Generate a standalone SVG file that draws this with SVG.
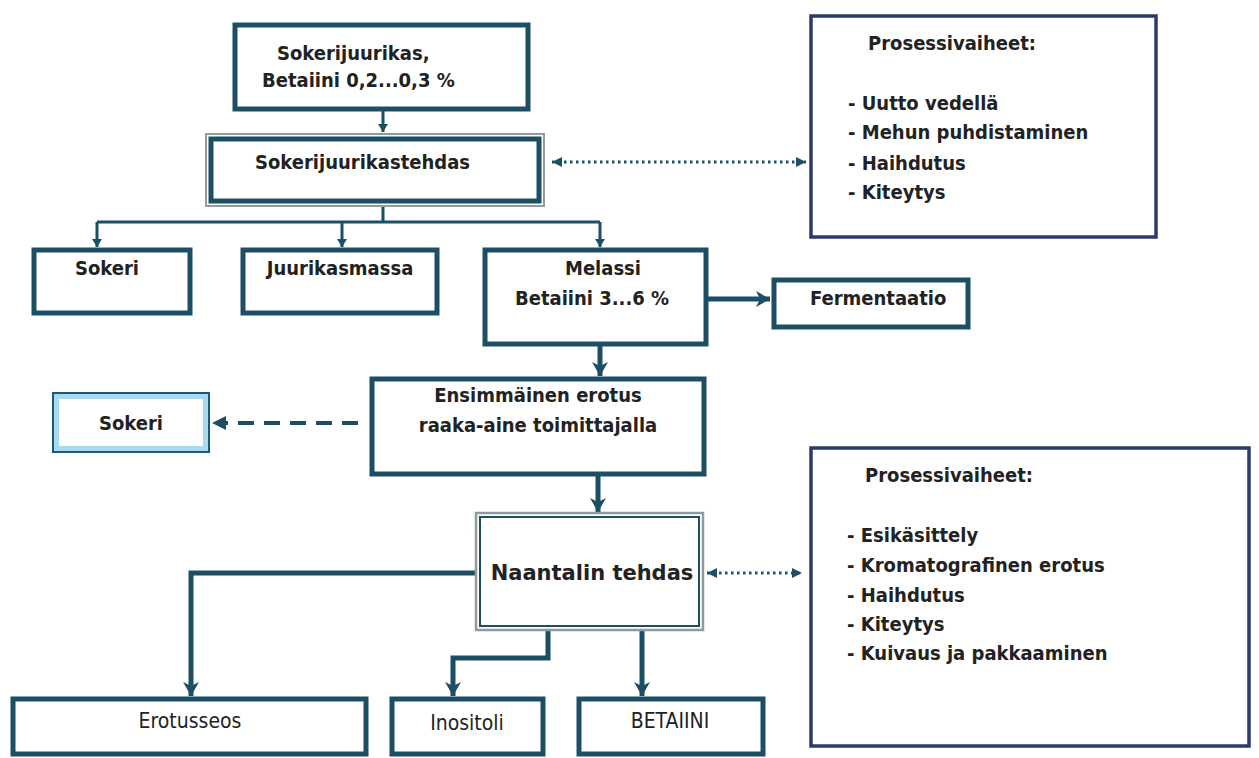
<svg xmlns="http://www.w3.org/2000/svg" width="1259" height="758" viewBox="0 0 1259 758">
<defs>
<style>
.bx{fill:#fff;stroke:#1c4f64;stroke-width:5}
.pb{fill:#fff;stroke:#2a3b6b;stroke-width:3.5}
.t{font-family:"DejaVu Sans Condensed","DejaVu Sans",sans-serif;font-weight:bold;font-size:20px;fill:#222}
.tn{font-family:"Liberation Sans Narrow","DejaVu Sans Condensed",sans-serif;font-size:21px;fill:#222}
.c{text-anchor:middle}
.thin{fill:none;stroke:#1c4f64;stroke-width:3}
.thick{fill:none;stroke:#1c4f64;stroke-width:5}
.dot{fill:none;stroke:#1c4f64;stroke-width:3;stroke-dasharray:2.5 3.5}
.dash{fill:none;stroke:#1c4f64;stroke-width:4;stroke-dasharray:16 10}
</style>
<marker id="as" markerUnits="userSpaceOnUse" markerWidth="10" markerHeight="10" refX="8" refY="5" orient="auto"><path d="M0,0 L8,5 L0,10 z" fill="#1c4f64"/></marker>
<marker id="ab" markerUnits="userSpaceOnUse" markerWidth="16" markerHeight="16" refX="14" refY="8" orient="auto"><path d="M0,0 L14,8 L0,16 L4,8 z" fill="#1c4f64"/></marker>
<marker id="ad" markerUnits="userSpaceOnUse" markerWidth="12" markerHeight="12" refX="10" refY="6" orient="auto-start-reverse"><path d="M0,1 L10,6 L0,11 z" fill="#1c4f64"/></marker>
</defs>
<rect width="1259" height="758" fill="#fff"/>

<g id="connectors">
<line class="thin" x1="383" y1="110" x2="383" y2="132" marker-end="url(#as)"/>
<polyline class="thin" points="383,207 383,222"/>
<line class="thin" x1="97" y1="222" x2="600" y2="222"/>
<line class="thin" x1="97" y1="222" x2="97" y2="247" marker-end="url(#as)"/>
<line class="thin" x1="342" y1="222" x2="342" y2="247" marker-end="url(#as)"/>
<line class="thin" x1="600" y1="222" x2="600" y2="247" marker-end="url(#as)"/>
<line class="dot" x1="552" y1="162" x2="806" y2="162" marker-start="url(#ad)" marker-end="url(#ad)"/>
<line class="thick" x1="708" y1="299" x2="770" y2="299" marker-end="url(#ab)"/>
<line class="thick" x1="600" y1="345" x2="600" y2="376" marker-end="url(#ab)"/>
<line class="dash" x1="358" y1="423" x2="222" y2="423"/>
<path d="M226,416 L212,423 L226,430 z" fill="#1c4f64"/>
<line class="thick" x1="598" y1="476" x2="598" y2="512" marker-end="url(#ab)"/>
<line class="dot" x1="707" y1="573" x2="802" y2="573" marker-start="url(#ad)" marker-end="url(#ad)"/>
<polyline class="thick" points="475,573 191,573 191,696" marker-end="url(#ab)"/>
<polyline class="thick" points="548,630 548,658 453,658 453,696" marker-end="url(#ab)"/>
<line class="thick" x1="642" y1="630" x2="642" y2="696" marker-end="url(#ab)"/>
</g>

<g id="n-sokerijuurikas">
<rect class="bx" x="235" y="25" width="293" height="84"/>
<text class="t" x="277" y="60">Sokerijuurikas,</text>
<text class="t" x="262" y="87">Betaiini 0,2...0,3 %</text>
</g>

<g id="n-tehdas">
<rect x="206" y="134" width="338" height="72" fill="#fff" stroke="#8f9ba1" stroke-width="2"/>
<rect x="211" y="139" width="328" height="62" fill="none" stroke="#1c4f64" stroke-width="5"/>
<text class="t" x="255" y="169">Sokerijuurikastehdas</text>
</g>

<g id="n-prosessi1">
<rect class="pb" x="811" y="16" width="345" height="221"/>
<text class="t" x="868" y="50">Prosessivaiheet:</text>
<text class="t" x="848" y="110">- Uutto vedellä</text>
<text class="t" x="848" y="139">- Mehun puhdistaminen</text>
<text class="t" x="848" y="170">- Haihdutus</text>
<text class="t" x="848" y="199">- Kiteytys</text>
</g>

<g id="n-sokeri1">
<rect class="bx" x="34" y="250" width="156" height="63"/>
<text class="t c" x="107" y="275">Sokeri</text>
</g>

<g id="n-juurikasmassa">
<rect class="bx" x="243" y="250" width="194" height="63"/>
<text class="t c" x="340" y="275">Juurikasmassa</text>
</g>

<g id="n-melassi">
<rect class="bx" x="485" y="250" width="221" height="94"/>
<text class="t c" x="603" y="275">Melassi</text>
<text class="t c" x="592" y="305">Betaiini 3...6 %</text>
</g>

<g id="n-fermentaatio">
<rect class="bx" x="774" y="280" width="194" height="47"/>
<text class="t" x="810" y="305">Fermentaatio</text>
</g>

<g id="n-ensimmainen">
<rect class="bx" x="372" y="379" width="332" height="95"/>
<text class="t c" x="538" y="402">Ensimmäinen erotus</text>
<text class="t c" x="538" y="432">raaka-aine toimittajalla</text>
</g>

<g id="n-sokeri2">
<rect x="53" y="393" width="156" height="59" fill="#fff" stroke="#1c5a74" stroke-width="2"/>
<rect x="56.5" y="396.5" width="149" height="52" fill="none" stroke="#a9d9ec" stroke-width="5"/>
<text class="t c" x="131" y="430">Sokeri</text>
</g>

<g id="n-naantali">
<rect x="476" y="513" width="227" height="117" fill="#fff" stroke="#8f9ba1" stroke-width="2.5"/>
<rect x="480" y="517" width="219" height="109" fill="none" stroke="#1c4f64" stroke-width="2"/>
<text x="592" y="580" text-anchor="middle" font-family="DejaVu Sans, sans-serif" font-weight="bold" font-size="21" fill="#222">Naantalin tehdas</text>
</g>

<g id="n-prosessi2">
<rect class="pb" x="811" y="448" width="438" height="298"/>
<text class="t" x="865" y="482">Prosessivaiheet:</text>
<text class="t" x="847" y="542">- Esikäsittely</text>
<text class="t" x="847" y="572">- Kromatografinen erotus</text>
<text class="t" x="847" y="602">- Haihdutus</text>
<text class="t" x="847" y="631">- Kiteytys</text>
<text class="t" x="847" y="660">- Kuivaus ja pakkaaminen</text>
</g>

<g id="n-erotusseos">
<rect class="bx" x="13" y="699" width="353" height="55"/>
<text class="tn c" x="190" y="728">Erotusseos</text>
</g>

<g id="n-inositoli">
<rect class="bx" x="392" y="699" width="151" height="55"/>
<text class="tn c" x="467" y="730">Inositoli</text>
</g>

<g id="n-betaiini">
<rect class="bx" x="579" y="699" width="184" height="55"/>
<text class="tn c" x="670" y="728">BETAIINI</text>
</g>
</svg>
